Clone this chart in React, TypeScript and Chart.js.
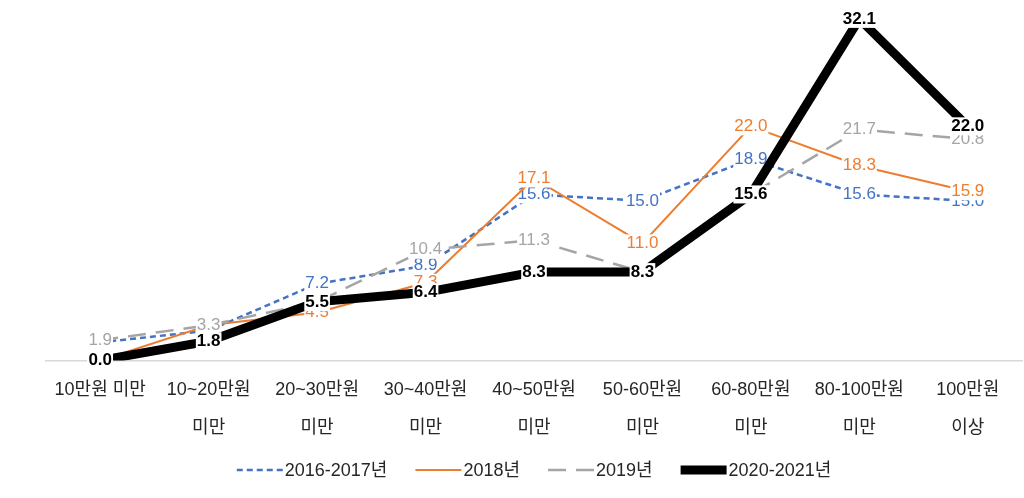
import React, { useEffect, useRef } from "react";
import { Chart, registerables } from "chart.js";

Chart.register(...registerables);

const categories: string[][] = [
  ["10만원 미만"],
  ["10~20만원", "미만"],
  ["20~30만원", "미만"],
  ["30~40만원", "미만"],
  ["40~50만원", "미만"],
  ["50-60만원", "미만"],
  ["60-80만원", "미만"],
  ["80-100만원", "미만"],
  ["100만원", "이상"],
];

const seriesNames = ["2016-2017년", "2018년", "2019년", "2020-2021년"];
const values2016_2017 = [1.7, 2.8, 7.2, 8.9, 15.6, 15.0, 18.9, 15.6, 15.0];
const values2018 = [0.0, 3.3, 4.5, 7.3, 17.1, 11.0, 22.0, 18.3, 15.9];
const values2019 = [1.9, 3.3, 5.5, 10.4, 11.3, 8.3, 15.6, 21.7, 20.8];
const values2020_2021 = [0.0, 1.8, 5.5, 6.4, 8.3, 8.3, 15.6, 32.1, 22.0];

const FONT = "'Liberation Sans', 'Noto Sans CJK KR', sans-serif";

const labelPlugin = {
  id: "pointLabels",
  afterDatasetDraw(chart: any, args: any) {
    const ds = chart.data.datasets[args.index];
    const meta = args.meta;
    const ctx = chart.ctx;
    ctx.save();
    const bold = ds.labelBold;
    ctx.font = `${bold ? "bold " : ""}17px ${FONT}`;
    ctx.textAlign = "center";
    ctx.textBaseline = "middle";
    meta.data.forEach((pt: any, i: number) => {
      const v = ds.data[i];
      const txt = Number(v).toFixed(1);
      const w = ctx.measureText(txt).width;
      ctx.fillStyle = "#ffffff";
      ctx.fillRect(pt.x - w / 2 - 1, pt.y - 9, w + 2, 18);
      ctx.fillStyle = ds.labelColor;
      ctx.fillText(txt, pt.x, pt.y);
    });
    ctx.restore();
  },
};

const legendPlugin = {
  id: "dashLegend",
  afterDraw(chart: any) {
    const ctx = chart.ctx;
    const dss = chart.data.datasets;
    const lineW = 46;
    const textGap = 2;
    const itemGap = 28;
    const y = 470;
    ctx.save();
    ctx.font = `18px ${FONT}`;
    ctx.textBaseline = "middle";
    ctx.textAlign = "left";
    const widths = dss.map((d: any) => lineW + textGap + ctx.measureText(d.label).width);
    const total = widths.reduce((a: number, b: number) => a + b, 0) + itemGap * (dss.length - 1);
    const area = chart.chartArea;
    let x = (area.left + area.right) / 2 - total / 2;
    dss.forEach((d: any, i: number) => {
      ctx.beginPath();
      ctx.setLineDash(d.borderDash || []);
      ctx.lineWidth = d.borderWidth;
      ctx.strokeStyle = d.borderColor;
      ctx.moveTo(x, y);
      ctx.lineTo(x + lineW, y);
      ctx.stroke();
      ctx.setLineDash([]);
      ctx.fillStyle = "#262626";
      ctx.fillText(d.label, x + lineW + textGap, y + 1);
      x += widths[i] + itemGap;
    });
    ctx.restore();
  },
};

export default function App() {
  const ref = useRef<HTMLCanvasElement | null>(null);
  useEffect(() => {
    if (!ref.current) return;
    const chart = new Chart(ref.current, {
      type: "line",
      data: {
        labels: categories as any,
        datasets: [
          {
            label: seriesNames[0],
            data: values2016_2017,
            borderColor: "#4472C4",
            backgroundColor: "#4472C4",
            borderWidth: 2.5,
            borderDash: [6, 4],
            pointRadius: 0,
            tension: 0,
            order: 4,
            labelColor: "#4472C4",
            labelBold: false,
          } as any,
          {
            label: seriesNames[1],
            data: values2018,
            borderColor: "#ED7D31",
            backgroundColor: "#ED7D31",
            borderWidth: 2,
            pointRadius: 0,
            tension: 0,
            order: 3,
            labelColor: "#ED7D31",
            labelBold: false,
          } as any,
          {
            label: seriesNames[2],
            data: values2019,
            borderColor: "#A5A5A5",
            backgroundColor: "#A5A5A5",
            borderWidth: 2.5,
            borderDash: [18, 10],
            pointRadius: 0,
            tension: 0,
            order: 2,
            labelColor: "#A5A5A5",
            labelBold: false,
          } as any,
          {
            label: seriesNames[3],
            data: values2020_2021,
            borderColor: "#000000",
            backgroundColor: "#000000",
            borderWidth: 9,
            pointRadius: 0,
            tension: 0,
            order: 1,
            labelColor: "#000000",
            labelBold: true,
          } as any,
        ],
      },
      options: {
        animation: false,
        responsive: false,
        maintainAspectRatio: false,
        layout: { padding: { left: 46, right: 2, top: 4, bottom: 40 } },
        scales: {
          x: {
            offset: true,
            grid: { display: false, drawTicks: false },
            border: { display: true, color: "#d9d9d9", width: 1.5 },
            ticks: {
              color: "#262626",
              font: { family: FONT, size: 18, lineHeight: 2.1 },
              padding: 11,
              maxRotation: 0,
              autoSkip: false,
            },
          },
          y: {
            display: false,
            min: 0,
            max: 33.5,
          },
        },
        plugins: {
          legend: { display: false },
          tooltip: { enabled: false },
        },
      },
      plugins: [labelPlugin, legendPlugin],
    });
    return () => chart.destroy();
  }, []);
  return (
    <div style={{ position: "fixed", left: 0, top: 0, width: 1024, height: 498, background: "#fff" }}>
      <canvas ref={ref} width={1024} height={498} style={{ width: 1024, height: 498 }} />
    </div>
  );
}
